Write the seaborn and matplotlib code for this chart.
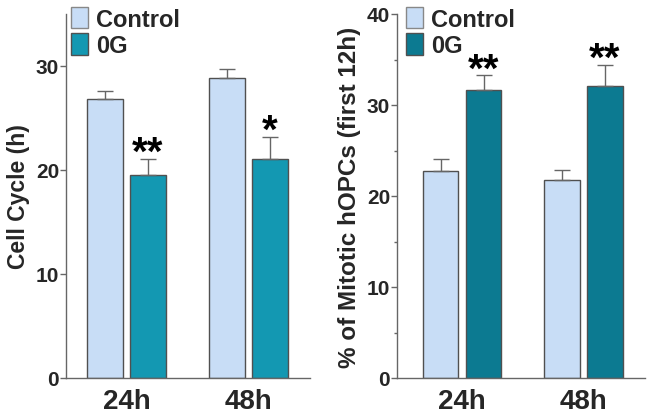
import numpy as np
import pandas as pd
import matplotlib
matplotlib.use("Agg")
import matplotlib.pyplot as plt
import seaborn as sns
from matplotlib.patches import Patch

# ---- data ----
times = ["24h", "48h"]
groups = ["Control", "0G"]

cycle_control = [26.85, 28.8]
cycle_0g = [19.5, 21.05]
cycle_control_err = [0.75, 0.9]
cycle_0g_err = [1.6, 2.15]
cycle_stars = ["**", "*"]

mitotic_control = [22.8, 21.8]
mitotic_0g = [31.7, 32.1]
mitotic_control_err = [1.25, 1.1]
mitotic_0g_err = [1.55, 2.3]
mitotic_stars = ["**", "**"]

ctrl_color = "#C8DDF6"
og_left_color = "#1398B2"
og_right_color = "#0C7A91"
grey = "#666666"

sns.set_theme(style="white")
plt.rcParams["font.family"] = ["Liberation Sans", "DejaVu Sans"]
plt.rcParams["font.weight"] = "bold"

fig = plt.figure(figsize=(6.52, 4.14), dpi=100)
W, H = 652, 414
ax1 = fig.add_axes([66 / W, 1 - 379 / H, 244 / W, 364 / H])
ax2 = fig.add_axes([397 / W, 1 - 379 / H, 248 / W, 364 / H])


def panel(ax, ctrl, og, ctrl_err, og_err, stars, og_color, ylim, yticks, ylabel,
          ylabel_size, xlim, minor, legend_xy):
    df = pd.DataFrame({
        "time": times * 2,
        "group": [groups[0]] * 2 + [groups[1]] * 2,
        "value": list(ctrl) + list(og),
    })
    sns.barplot(data=df, x="time", y="value", hue="group", order=times,
                hue_order=groups, palette=[ctrl_color, og_color],
                errorbar=None, width=0.708, gap=0.164, edgecolor="#505050",
                linewidth=1.0, saturation=1, ax=ax, legend=False)
    errs = [ctrl_err, og_err]
    vals = [ctrl, og]
    bar_conts = list(ax.containers)[:2]
    for ci, cont in enumerate(bar_conts):
        for bi, bar in enumerate(cont.patches):
            xc = bar.get_x() + bar.get_width() / 2
            ax.errorbar([xc], [vals[ci][bi]], yerr=[[0], [errs[ci][bi]]],
                        fmt="none", ecolor=grey, elinewidth=1.0, capsize=6,
                        capthick=1.0, zorder=1)
            if ci == 1:
                ax.annotate(stars[bi], (xc, vals[ci][bi] + errs[ci][bi]),
                            xytext=(0, -3.5), textcoords="offset points",
                            ha="center", va="baseline", fontsize=29,
                            fontweight="bold", color="black")
    ax.set_ylim(*ylim)
    ax.set_xlim(*xlim)
    ax.set_yticks(yticks)
    ax.set_yticklabels([str(t) for t in yticks], fontsize=15, fontweight="bold")
    if minor:
        ax.set_yticks(minor, minor=True)
    ax.tick_params(axis="y", which="major", left=True, length=4, width=1,
                   color=grey, pad=1)
    ax.tick_params(axis="y", which="minor", left=True, length=2.5, width=1,
                   color=grey)
    ax.tick_params(axis="x", bottom=False, pad=1)
    for lab in ax.get_xticklabels():
        lab.set_fontsize(20)
        lab.set_fontweight("bold")
    ax.set_xlabel("")
    ax.set_ylabel(ylabel, fontsize=ylabel_size, fontweight="bold", labelpad=4)
    for s in ["top", "right"]:
        ax.spines[s].set_visible(False)
    for s in ["left", "bottom"]:
        ax.spines[s].set_color(grey)
        ax.spines[s].set_linewidth(1.0)
    handles = [Patch(facecolor=ctrl_color, edgecolor="#888888", linewidth=1),
               Patch(facecolor=og_color, edgecolor="#505050", linewidth=1)]
    fig.legend(handles, groups, loc="upper left",
               bbox_to_anchor=(legend_xy[0] / W, 1 - legend_xy[1] / H),
               frameon=False, handlelength=0.7,
               handleheight=1.0, handletextpad=0.35, labelspacing=0.12,
               borderpad=0, borderaxespad=0, prop={"weight": "bold", "size": 17})


panel(ax1, cycle_control, cycle_0g, cycle_control_err, cycle_0g_err, cycle_stars,
      og_left_color, (0, 35), [0, 10, 20, 30], "Cell Cycle (h)", 16.5,
      (-0.498, 1.51), None, (71, 8))
panel(ax2, mitotic_control, mitotic_0g, mitotic_control_err, mitotic_0g_err,
      mitotic_stars, og_right_color, (0, 40), [0, 10, 20, 30, 40],
      "% of Mitotic hOPCs (first 12h)", 17.5, (-0.535, 1.506), [5, 15, 25, 35],
      (406, 8))

fig.savefig("out.png", dpi=100)
